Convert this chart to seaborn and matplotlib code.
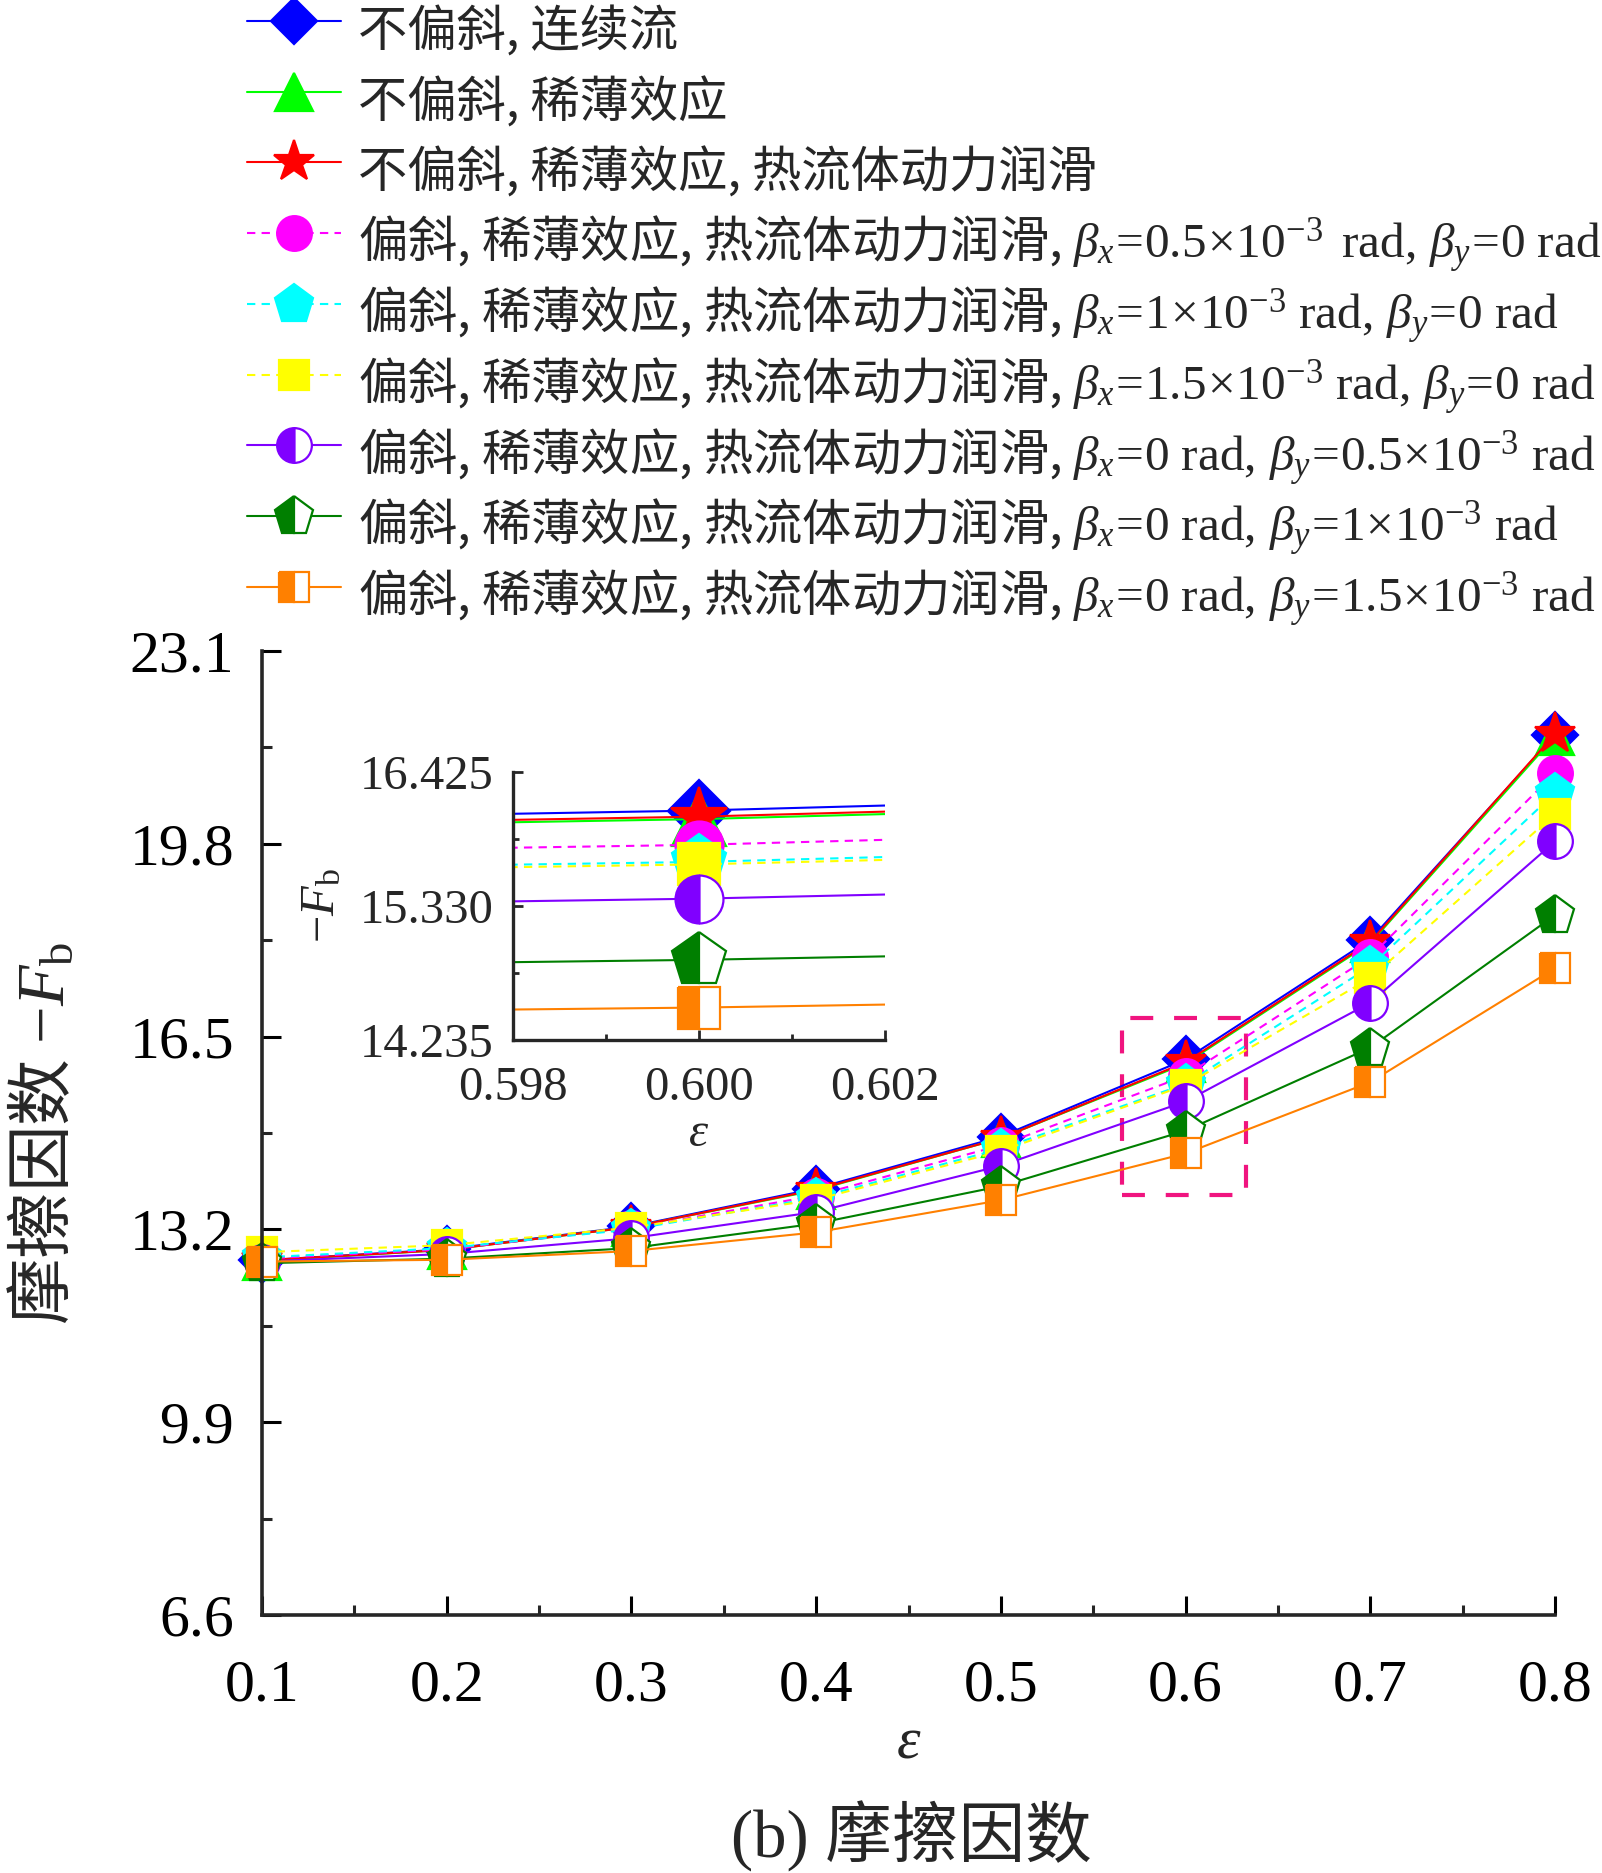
import matplotlib
matplotlib.use("Agg")
import matplotlib.pyplot as plt
from matplotlib.patches import Rectangle
from matplotlib.ticker import FixedLocator, MultipleLocator
from matplotlib.font_manager import FontProperties
import seaborn as sns
import pandas as pd

# ---------------- data ----------------
eps = [0.1, 0.2, 0.3, 0.4, 0.5, 0.6, 0.7, 0.8]

fb_cont = [12.67, 12.86, 13.25, 13.90, 14.79, 16.11, 18.16, 21.66]
fb_rare = [12.66, 12.85, 13.24, 13.87, 14.76, 16.04, 18.10, 21.64]
fb_thd = [12.67, 12.85, 13.24, 13.88, 14.76, 16.06, 18.12, 21.68]
fb_bx05 = [12.70, 12.86, 13.22, 13.78, 14.64, 15.83, 17.87, 21.01]
fb_bx10 = [12.72, 12.88, 13.20, 13.74, 14.58, 15.69, 17.70, 20.67]
fb_bx15 = [12.81, 12.93, 13.23, 13.71, 14.54, 15.67, 17.50, 20.31]
fb_by05 = [12.65, 12.78, 13.05, 13.50, 14.29, 15.39, 17.08, 19.84]
fb_by10 = [12.62, 12.70, 12.88, 13.30, 13.94, 14.89, 16.31, 18.58]
fb_by15 = [12.65, 12.68, 12.83, 13.15, 13.70, 14.50, 15.72, 17.67]

pre = "偏斜, 稀薄效应, 热流体动力润滑, "
labels = [
    "不偏斜, 连续流",
    "不偏斜, 稀薄效应",
    "不偏斜, 稀薄效应, 热流体动力润滑",
    pre + r"$\beta_x\!=\!0.5\!\times\!10^{-3}\ \,\mathrm{rad},\,\beta_y\!=\!0\ \mathrm{rad}$",
    pre + r"$\beta_x\!=\!1\!\times\!10^{-3}\ \mathrm{rad},\,\beta_y\!=\!0\ \mathrm{rad}$",
    pre + r"$\beta_x\!=\!1.5\!\times\!10^{-3}\ \mathrm{rad},\,\beta_y\!=\!0\ \mathrm{rad}$",
    pre + r"$\beta_x\!=\!0\ \mathrm{rad},\,\beta_y\!=\!0.5\!\times\!10^{-3}\ \mathrm{rad}$",
    pre + r"$\beta_x\!=\!0\ \mathrm{rad},\,\beta_y\!=\!1\!\times\!10^{-3}\ \mathrm{rad}$",
    pre + r"$\beta_x\!=\!0\ \mathrm{rad},\,\beta_y\!=\!1.5\!\times\!10^{-3}\ \mathrm{rad}$",
]
series = [fb_cont, fb_rare, fb_thd, fb_bx05, fb_bx10, fb_bx15, fb_by05, fb_by10, fb_by15]

main_yticks = [6.6, 9.9, 13.2, 16.5, 19.8, 23.1]
main_xticks = [0.1, 0.2, 0.3, 0.4, 0.5, 0.6, 0.7, 0.8]
inset_xticks = [0.598, 0.600, 0.602]
inset_yticks = [14.235, 15.330, 16.425]

# ---------------- styles ----------------
colors = ["#0000FF", "#00FF00", "#FF0000", "#FF00FF", "#00FFFF", "#FFFF00",
          "#8000FF", "#007F00", "#FF8000"]
markers = ["D", "^", "*", "o", "p", "s", "o", "p", "s"]
msizes = [23, 28, 31, 25, 29.5, 22, 25, 29.5, 22]
fills = ["full"] * 6 + ["left"] * 3
dashed = (0, (4, 3))
lstyles = ["-", "-", "-", dashed, dashed, dashed, "-", "-", "-"]

sns.set_style("ticks")
plt.rcParams["font.family"] = ["Liberation Serif", "Noto Sans CJK SC"]
plt.rcParams["mathtext.fontset"] = "custom"
plt.rcParams["mathtext.rm"] = "Liberation Serif"
plt.rcParams["mathtext.it"] = "Liberation Serif:italic"
plt.rcParams["mathtext.bf"] = "Liberation Serif:bold"
plt.rcParams["axes.unicode_minus"] = True

CJK = ["Noto Sans CJK SC"]

fig = plt.figure(figsize=(16.02, 18.73), dpi=100)
ax = fig.add_axes([262 / 1602, 1 - 1615 / 1873, 1293 / 1602, 964 / 1873])
axin = fig.add_axes([513 / 1602, 1 - 1040 / 1873, 372 / 1602, 268 / 1873])


def draw(axis, scale, clip):
    for vals, lab, c, m, ms, fs, ls in zip(series, labels, colors, markers,
                                           msizes, fills, lstyles):
        df = pd.DataFrame({"eps": eps, "fb": vals})
        sns.lineplot(data=df, x="eps", y="fb", ax=axis, color=c, marker=m,
                     markersize=ms * scale, fillstyle=fs,
                     markerfacecoloralt="white", markerfacecolor=c,
                     markeredgecolor=c, markeredgewidth=1.6,
                     linestyle=ls, linewidth=1.5, label=lab,
                     errorbar=None, clip_on=clip, legend=False)


draw(ax, 1.0, False)
draw(axin, 1.38, True)

# ---------------- main axes ----------------
ax.set_xlim(0.1, 0.8)
ax.set_ylim(6.6, 23.1)
ax.xaxis.set_major_locator(FixedLocator(main_xticks))
ax.xaxis.set_minor_locator(MultipleLocator(0.05))
ax.yaxis.set_major_locator(FixedLocator(main_yticks))
ax.yaxis.set_minor_locator(MultipleLocator(1.65))
ax.set_xticklabels([f"{v:.1f}" for v in main_xticks])
ax.set_yticklabels([f"{v:.1f}" for v in main_yticks])
for s in ["top", "right"]:
    ax.spines[s].set_visible(False)
for s in ["left", "bottom"]:
    ax.spines[s].set_linewidth(2.6)
ax.tick_params(which="major", direction="in", length=14, width=2.2,
               labelsize=43, colors="black")
ax.tick_params(which="minor", direction="in", length=7, width=2.2)
ax.tick_params(axis="x", pad=32)
ax.tick_params(axis="y", pad=20)
ax.set_xlabel(r"$\varepsilon$", fontsize=43)
ax.xaxis.set_label_coords(0.5, -0.105)
ax.set_ylabel(r"摩擦因数 $-F_\mathrm{b}$", fontsize=48, family=CJK)
ax.yaxis.set_label_coords(-0.142, 0.5)
ax.grid(False)

rect = Rectangle((0.5656, 13.79), 0.0671, 3.03, fill=False,
                 edgecolor="#F0147F", linewidth=3, linestyle=(0, (5.5, 5.0)),
                 zorder=1)
ax.add_patch(rect)

# ---------------- inset ----------------
axin.set_xlim(0.598, 0.602)
axin.set_ylim(14.235, 16.425)
axin.xaxis.set_major_locator(FixedLocator(inset_xticks))
axin.xaxis.set_minor_locator(MultipleLocator(0.001))
axin.yaxis.set_major_locator(FixedLocator(inset_yticks))
axin.yaxis.set_minor_locator(MultipleLocator(0.5475))
axin.set_xticklabels([f"{v:.3f}" for v in inset_xticks])
axin.set_yticklabels([f"{v:.3f}" for v in inset_yticks])
for s in ["top", "right"]:
    axin.spines[s].set_visible(False)
for s in ["left", "bottom"]:
    axin.spines[s].set_linewidth(2.4)
axin.tick_params(which="major", direction="in", length=7, width=2.0,
                 labelsize=35)
axin.tick_params(which="minor", direction="in", length=4, width=2.0)
axin.tick_params(axis="x", pad=19)
axin.tick_params(axis="y", pad=14)
axin.set_xlabel(r"$\varepsilon$", fontsize=35)
axin.xaxis.set_label_coords(0.5, -0.27)
axin.set_ylabel(r"$-F_\mathrm{b}$", fontsize=35)
axin.yaxis.set_label_coords(-0.454, 0.5)
axin.grid(False)
axin.patch.set_alpha(0)

# ---------------- legend ----------------
handles, labs = ax.get_legend_handles_labels()
fig.legend(handles, labs, loc="upper left", bbox_to_anchor=(247 / 1602, 1.0025),
           frameon=False, prop=FontProperties(family=CJK, size=35.5),
           handlelength=1.9, handletextpad=0.35, handleheight=1.83,
           labelspacing=0.0, borderpad=0.0, borderaxespad=0.0, numpoints=1)

fig.text(911 / 1602, 1 - 1836 / 1873, "(b) 摩擦因数", fontsize=48,
         ha="center", va="center")

fig.savefig("out.png", dpi=100)
